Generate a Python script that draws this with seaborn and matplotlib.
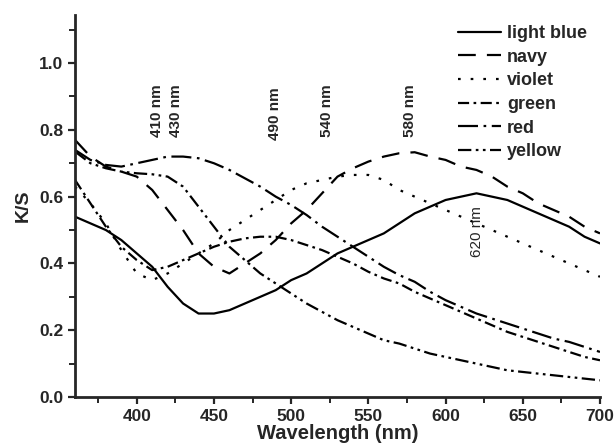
import numpy as np
import pandas as pd
import matplotlib
matplotlib.use("Agg")
import matplotlib.pyplot as plt
from matplotlib.ticker import MultipleLocator
import seaborn as sns

# values (K/S vs wavelength)
wavelength = list(range(360, 701, 10))
light_blue = [0.54, 0.52, 0.50, 0.47, 0.43, 0.39, 0.33, 0.28, 0.25, 0.25, 0.26, 0.28, 0.30, 0.32,
              0.35, 0.37, 0.40, 0.43, 0.45, 0.47, 0.49, 0.52, 0.55, 0.57, 0.59, 0.60, 0.61, 0.60,
              0.59, 0.57, 0.55, 0.53, 0.51, 0.48, 0.46]
navy = [0.77, 0.72, 0.69, 0.675, 0.66, 0.62, 0.56, 0.50, 0.43, 0.39, 0.37, 0.40, 0.43, 0.47,
        0.52, 0.56, 0.61, 0.66, 0.685, 0.705, 0.72, 0.73, 0.733, 0.72, 0.71, 0.69, 0.68, 0.66,
        0.63, 0.61, 0.58, 0.56, 0.54, 0.51, 0.49]
violet = [0.63, 0.58, 0.52, 0.44, 0.37, 0.35, 0.37, 0.40, 0.43, 0.46, 0.50, 0.53, 0.56, 0.59,
          0.62, 0.64, 0.65, 0.66, 0.665, 0.665, 0.65, 0.62, 0.60, 0.58, 0.56, 0.54, 0.52, 0.50,
          0.48, 0.46, 0.44, 0.42, 0.40, 0.38, 0.36]
green = [0.65, 0.58, 0.51, 0.45, 0.41, 0.38, 0.39, 0.41, 0.43, 0.45, 0.465, 0.475, 0.48, 0.48,
         0.47, 0.455, 0.44, 0.42, 0.40, 0.375, 0.355, 0.34, 0.315, 0.295, 0.275, 0.255, 0.235,
         0.215, 0.195, 0.18, 0.165, 0.15, 0.135, 0.12, 0.11]
red = [0.74, 0.71, 0.695, 0.69, 0.70, 0.71, 0.72, 0.72, 0.715, 0.70, 0.68, 0.655, 0.63, 0.60,
       0.575, 0.545, 0.51, 0.48, 0.45, 0.42, 0.39, 0.365, 0.345, 0.315, 0.29, 0.27, 0.25, 0.235,
       0.22, 0.205, 0.19, 0.175, 0.165, 0.15, 0.135]
yellow = [0.735, 0.70, 0.685, 0.675, 0.67, 0.667, 0.66, 0.63, 0.57, 0.51, 0.45, 0.41, 0.37, 0.34,
          0.31, 0.28, 0.255, 0.23, 0.21, 0.19, 0.17, 0.16, 0.145, 0.13, 0.12, 0.11, 0.10, 0.09,
          0.08, 0.075, 0.07, 0.065, 0.06, 0.055, 0.05]

names = ["light blue", "navy", "violet", "green", "red", "yellow"]
series = [light_blue, navy, violet, green, red, yellow]

peak_labels = ["410 nm", "430 nm", "490 nm", "540 nm", "580 nm", "620 nm"]
peak_x = [413, 425.5, 489.5, 523, 577, 620.5]
peak_y = [0.78, 0.78, 0.77, 0.78, 0.78, 0.42]

df = pd.concat([pd.DataFrame({"Wavelength": wavelength, "KS": s, "sample": n})
                for n, s in zip(names, series)], ignore_index=True)

sns.set_style("ticks")
plt.rcParams["font.family"] = ["Liberation Sans", "DejaVu Sans"]
plt.rcParams["font.weight"] = "bold"

fig = plt.figure(figsize=(6.14, 4.46), dpi=100)
ax = fig.add_axes([75 / 614, 1 - 397 / 446, 525 / 614, 382 / 446])

dash_map = {"light blue": "", "navy": (8, 5), "violet": (1.2, 4.5),
            "green": (5, 2, 1.2, 2), "red": (9, 2.5, 1.2, 2.5),
            "yellow": (6, 2, 1.2, 2, 1.2, 2)}
sns.lineplot(data=df, x="Wavelength", y="KS", hue="sample", style="sample",
             hue_order=names, style_order=names,
             palette=["black"] * 6, dashes=dash_map, linewidth=1.6, ax=ax)

ax.set_xlim(360, 700)
ax.set_ylim(0, 1.144)
ax.xaxis.set_major_locator(MultipleLocator(50))
ax.xaxis.set_minor_locator(MultipleLocator(25))
ax.yaxis.set_major_locator(MultipleLocator(0.2))
ax.yaxis.set_minor_locator(MultipleLocator(0.1))
ax.set_xticks(range(400, 701, 50))
ax.tick_params(which="major", direction="out", length=5, width=1.6, labelsize=12.5)
ax.tick_params(which="minor", direction="out", length=4, width=1.4)
for lab in ax.get_xticklabels() + ax.get_yticklabels():
    lab.set_fontweight("bold")
ax.yaxis.set_major_formatter(matplotlib.ticker.FormatStrFormatter("%.1f"))

for side in ["top", "right"]:
    ax.spines[side].set_visible(False)
for side in ["left", "bottom"]:
    ax.spines[side].set_linewidth(2)

ax.set_xlabel("Wavelength (nm)", fontsize=14.5, fontweight="bold", labelpad=0)
ax.set_ylabel("K/S", fontsize=14, fontweight="bold", labelpad=5)

for txt, xx, yy in zip(peak_labels, peak_x, peak_y):
    w = "normal" if txt == "620 nm" else "bold"
    ax.text(xx, yy, txt, rotation=90, ha="center", va="bottom", fontsize=11, fontweight=w)

handles, labels = ax.get_legend_handles_labels()
ax.legend(handles, labels, loc="upper left", bbox_to_anchor=(458 / 614, 1 - 25 / 446),
          bbox_transform=fig.transFigure, frameon=False,
          handlelength=2.4, handletextpad=0.3, labelspacing=0.37,
          borderpad=0, borderaxespad=0, prop={"weight": "bold", "size": 13})

fig.savefig("out.png", dpi=100)
